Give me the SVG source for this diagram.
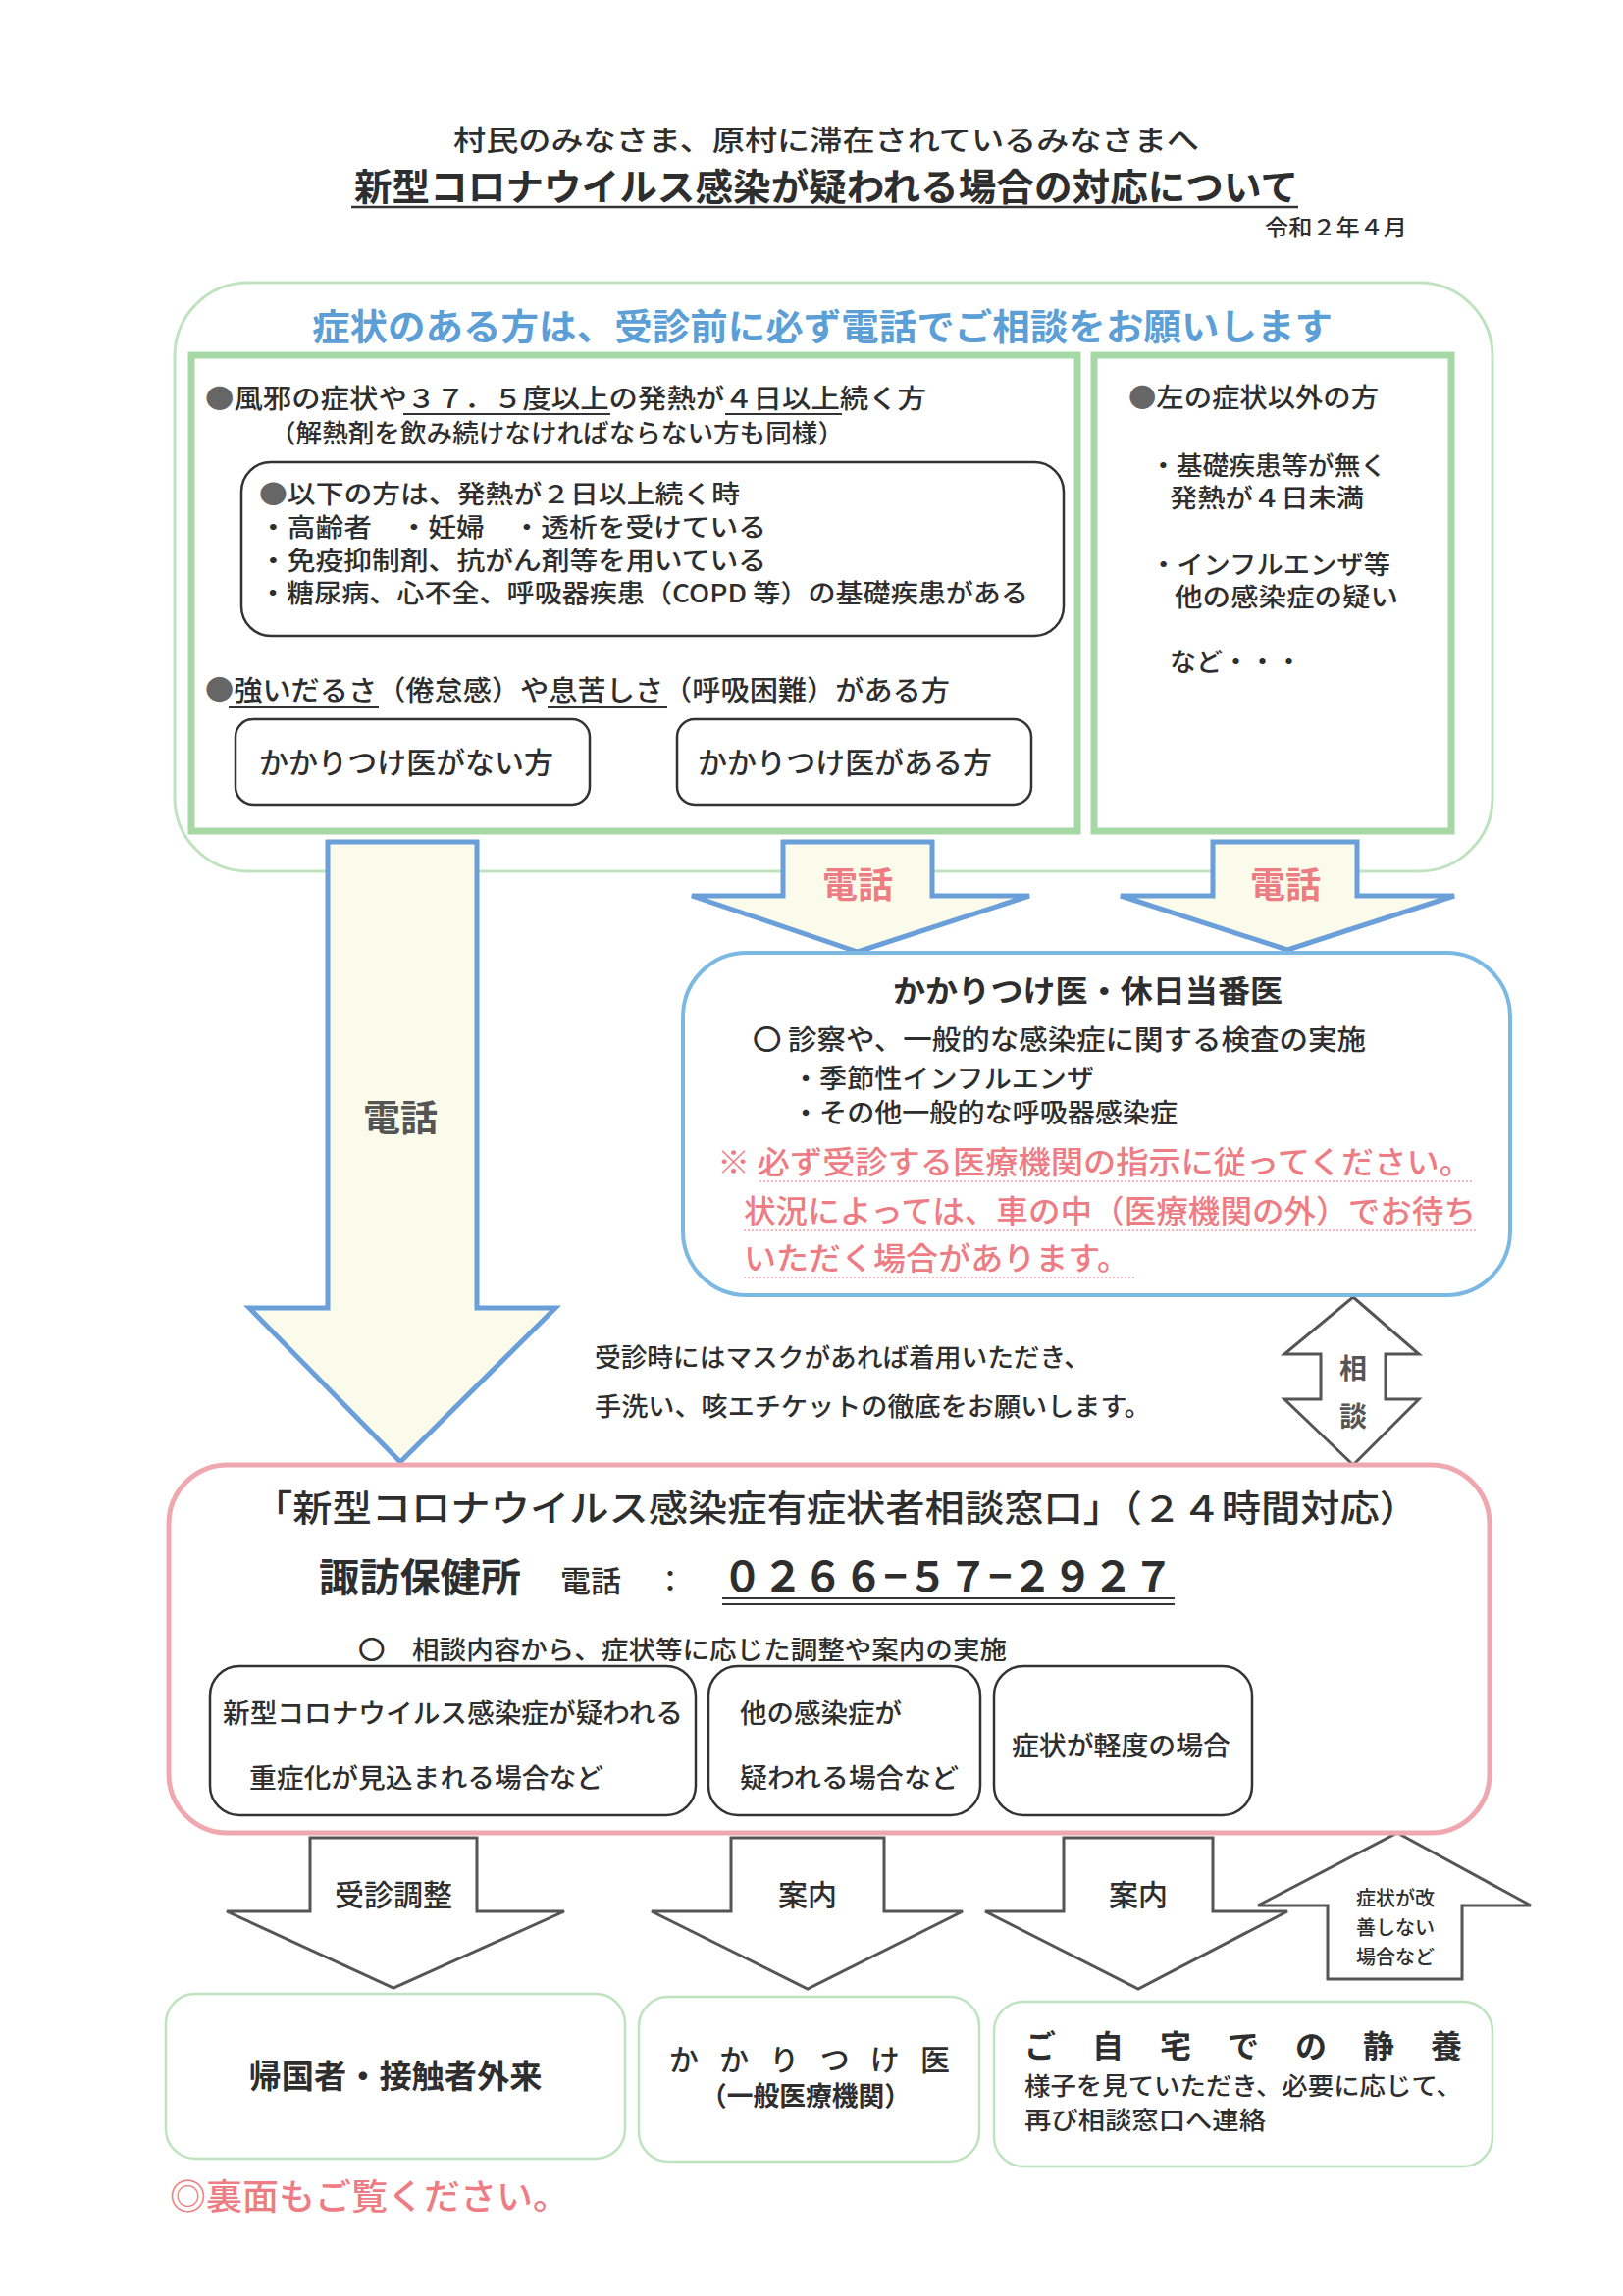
<svg xmlns="http://www.w3.org/2000/svg" width="1654" height="2340" viewBox="0 0 1654 2340">
<style>
text{font-family:"Noto Sans CJK JP","Noto Sans CJK SC",sans-serif;fill:#2e2e2e;font-weight:500;}
.b{font-weight:bold;}
.m{font-weight:500;}
.blue{fill:#5c9fd6;}
.red{fill:#ee7c84;}
.gr{fill:#666;}
.gframe{fill:#fff;stroke:#a5d8a5;stroke-width:7;}
.outerg{fill:none;stroke:#bfe3bf;stroke-width:3;}
.blk{fill:#fff;stroke:#333;stroke-width:2.5;}
.bluearr{fill:#fbfbec;stroke:#6b9fd9;stroke-width:5;stroke-linejoin:miter;}
.grayarr{fill:#fff;stroke:#555;stroke-width:3;stroke-linejoin:miter;}
.lgbox{fill:#fff;stroke:#bfe3bf;stroke-width:2.5;}
.wavy{stroke:#f0a0a8;stroke-width:1.5;stroke-dasharray:2 2;fill:none;}
</style>
<rect width="1654" height="2340" fill="#fff"/>

<g id="title">
<text x="462" y="154" font-size="29" textLength="760" lengthAdjust="spacingAndGlyphs">村民のみなさま、原村に滞在されているみなさまへ</text>
<text x="361" y="204" font-size="38" textLength="962" lengthAdjust="spacingAndGlyphs" class="b">新型コロナウイルス感染が疑われる場合の対応について</text>
<line x1="358" y1="211" x2="1323" y2="211" stroke="#333" stroke-width="2.5"/>
<text x="1289" y="240" font-size="23" textLength="145" lengthAdjust="spacingAndGlyphs">令和２年４月</text>
</g>

<g id="symptom-area">
<rect x="178" y="288" width="1343" height="600" rx="75" class="outerg"/>
<text x="318" y="347" font-size="37" textLength="1040" lengthAdjust="spacingAndGlyphs" class="b blue">症状のある方は、受診前に必ず電話でご相談をお願いします</text>
</g>

<g id="left-symptoms">
<rect x="195" y="362" width="903" height="485" class="gframe"/>
<text x="209" y="416" font-size="27" textLength="735" lengthAdjust="spacingAndGlyphs"><tspan class="gr">●</tspan>風邪の症状や３７．５度以上の発熱が４日以上続く方</text>
<line x1="411" y1="422" x2="622" y2="422" stroke="#333" stroke-width="2"/>
<line x1="739" y1="422" x2="858" y2="422" stroke="#333" stroke-width="2"/>
<text x="275" y="451" font-size="26" textLength="585" lengthAdjust="spacingAndGlyphs">（解熱剤を飲み続けなければならない方も同様）</text>
<g id="high-risk">
<rect x="246" y="471" width="838" height="177" rx="30" class="blk"/>
<text x="264" y="513" font-size="26" textLength="490" lengthAdjust="spacingAndGlyphs"><tspan class="gr">●</tspan>以下の方は、発熱が２日以上続く時</text>
<text x="264" y="547" font-size="26" textLength="517" lengthAdjust="spacingAndGlyphs">・高齢者　・妊婦　・透析を受けている</text>
<text x="264" y="581" font-size="26" textLength="517" lengthAdjust="spacingAndGlyphs">・免疫抑制剤、抗がん剤等を用いている</text>
<text x="264" y="614" font-size="26" textLength="784" lengthAdjust="spacingAndGlyphs">・糖尿病、心不全、呼吸器疾患（COPD 等）の基礎疾患がある</text>
</g>
<text x="209" y="714" font-size="28" textLength="759" lengthAdjust="spacingAndGlyphs"><tspan class="gr">●</tspan>強いだるさ（倦怠感）や息苦しさ（呼吸困難）がある方</text>
<line x1="233" y1="721" x2="386" y2="721" stroke="#333" stroke-width="2"/>
<line x1="558" y1="721" x2="680" y2="721" stroke="#333" stroke-width="2"/>
</g>
<g id="no-doctor">
<rect x="240" y="733" width="361" height="87" rx="18" class="blk"/>
<text x="264" y="788" font-size="30" textLength="300" lengthAdjust="spacingAndGlyphs">かかりつけ医がない方</text>
</g>
<g id="has-doctor">
<rect x="690" y="733" width="361" height="87" rx="18" class="blk"/>
<text x="711" y="788" font-size="30" textLength="300" lengthAdjust="spacingAndGlyphs">かかりつけ医がある方</text>
</g>

<g id="other-symptoms">
<rect x="1115" y="362" width="364" height="485" class="gframe"/>
<text x="1150" y="415" font-size="27" textLength="255" lengthAdjust="spacingAndGlyphs"><tspan class="gr">●</tspan>左の症状以外の方</text>
<text x="1172" y="484" font-size="26" textLength="241" lengthAdjust="spacingAndGlyphs">・基礎疾患等が無く</text>
<text x="1192" y="517" font-size="26" textLength="198" lengthAdjust="spacingAndGlyphs">発熱が４日未満</text>
<text x="1172" y="585" font-size="26" textLength="245" lengthAdjust="spacingAndGlyphs">・インフルエンザ等</text>
<text x="1197" y="618" font-size="26" textLength="228" lengthAdjust="spacingAndGlyphs">他の感染症の疑い</text>
<text x="1192" y="684" font-size="26" textLength="135" lengthAdjust="spacingAndGlyphs">など・・・</text>
</g>

<g id="connectors">
<polygon class="bluearr" points="334,858 486,858 486,1333 566,1333 408,1490 254,1333 334,1333"/>
<text x="370" y="1153" font-size="37" textLength="76" lengthAdjust="spacingAndGlyphs" class="b" style="fill:#555">電話</text>
<polygon class="bluearr" points="798,858 950,858 950,913 1049,913 874,970 705,913 798,913"/>
<text x="874" y="915" font-size="36" text-anchor="middle" class="b red">電話</text>
<polygon class="bluearr" points="1236,858 1383,858 1383,913 1482,913 1312,968 1142,913 1236,913"/>
<text x="1310" y="915" font-size="36" text-anchor="middle" class="b red">電話</text>
<polygon class="grayarr" points="1379,1322 1446,1380 1412,1380 1412,1426 1446,1426 1379,1493 1309,1426 1346,1426 1346,1380 1309,1380"/>
<text x="1379" y="1405" font-size="28" text-anchor="middle" class="b" style="fill:#555">相</text>
<text x="1379" y="1454" font-size="28" text-anchor="middle" class="b" style="fill:#555">談</text>
<polygon class="grayarr" points="316,1873 486,1873 486,1948 575,1948 401,2026 231,1948 316,1948"/>
<text x="401" y="1942" font-size="30" text-anchor="middle">受診調整</text>
<polygon class="grayarr" points="745,1873 901,1873 901,1948 981,1948 823,2027 664,1948 745,1948"/>
<text x="823" y="1942" font-size="30" text-anchor="middle">案内</text>
<polygon class="grayarr" points="1084,1873 1236,1873 1236,1948 1312,1948 1160,2027 1004,1948 1084,1948"/>
<text x="1160" y="1942" font-size="30" text-anchor="middle">案内</text>
<polygon class="grayarr" points="1424,1868 1560,1942 1490,1942 1490,2017 1353,2017 1353,1942 1282,1942"/>
<text x="1422" y="1942" font-size="20" text-anchor="middle">症状が改</text>
<text x="1422" y="1972" font-size="20" text-anchor="middle">善しない</text>
<text x="1422" y="2002" font-size="20" text-anchor="middle">場合など</text>
</g>

<g id="family-doctor">
<rect x="696" y="971" width="843" height="349" rx="65" fill="#fff" stroke="#7bb9e3" stroke-width="4"/>
<text x="910" y="1021" font-size="31" textLength="397" lengthAdjust="spacingAndGlyphs" class="b">かかりつけ医・休日当番医</text>
<text x="767" y="1070" font-size="28" textLength="625" lengthAdjust="spacingAndGlyphs">〇 診察や、一般的な感染症に関する検査の実施</text>
<text x="807" y="1109" font-size="27" textLength="308" lengthAdjust="spacingAndGlyphs">・季節性インフルエンザ</text>
<text x="807" y="1144" font-size="27" textLength="393" lengthAdjust="spacingAndGlyphs">・その他一般的な呼吸器感染症</text>
<text x="731" y="1196" font-size="32" textLength="769" lengthAdjust="spacingAndGlyphs" class="red">※ 必ず受診する医療機関の指示に従ってください。</text>
<line x1="774" y1="1204" x2="1500" y2="1204" class="wavy"/>
<text x="758" y="1246" font-size="32" textLength="746" lengthAdjust="spacingAndGlyphs" class="red">状況によっては、車の中（医療機関の外）でお待ち</text>
<line x1="758" y1="1254" x2="1504" y2="1254" class="wavy"/>
<text x="758" y="1294" font-size="32" textLength="393" lengthAdjust="spacingAndGlyphs" class="red">いただく場合があります。</text>
<line x1="758" y1="1302" x2="1156" y2="1302" class="wavy"/>
</g>

<g id="mask-note">
<text x="606" y="1393" font-size="26" textLength="505" lengthAdjust="spacingAndGlyphs">受診時にはマスクがあれば着用いただき、</text>
<text x="606" y="1443" font-size="26" textLength="567" lengthAdjust="spacingAndGlyphs">手洗い、咳エチケットの徹底をお願いします。</text>
</g>

<g id="consultation-center">
<rect x="172" y="1493" width="1346" height="375" rx="60" fill="#fff" stroke="#f0a8b0" stroke-width="5"/>
<text x="258" y="1551" font-size="37" textLength="1188" lengthAdjust="spacingAndGlyphs">「新型コロナウイルス感染症有症状者相談窓口」（２４時間対応）</text>
<text x="325" y="1622" font-size="40" textLength="206" lengthAdjust="spacingAndGlyphs" class="b">諏訪保健所</text>
<text x="571" y="1622" font-size="30" textLength="62" lengthAdjust="spacingAndGlyphs">電話</text>
<text x="668" y="1622" font-size="30">：</text>
<text x="736" y="1622" font-size="42" textLength="460" lengthAdjust="spacingAndGlyphs" class="b">０２６６−５７−２９２７</text>
<line x1="736" y1="1629" x2="1197" y2="1629" stroke="#333" stroke-width="2"/>
<line x1="736" y1="1635" x2="1197" y2="1635" stroke="#333" stroke-width="2"/>
<text x="365" y="1691" font-size="26" textLength="661" lengthAdjust="spacingAndGlyphs">〇　相談内容から、症状等に応じた調整や案内の実施</text>
</g>
<g id="case-covid">
<rect x="214" y="1698" width="495" height="152" rx="30" class="blk"/>
<text x="227" y="1756" font-size="27" textLength="469" lengthAdjust="spacingAndGlyphs">新型コロナウイルス感染症が疑われる</text>
<text x="254" y="1822" font-size="27" textLength="361" lengthAdjust="spacingAndGlyphs">重症化が見込まれる場合など</text>
</g>
<g id="case-other">
<rect x="722" y="1698" width="277" height="152" rx="30" class="blk"/>
<text x="754" y="1756" font-size="27" textLength="165" lengthAdjust="spacingAndGlyphs">他の感染症が</text>
<text x="754" y="1822" font-size="27" textLength="223" lengthAdjust="spacingAndGlyphs">疑われる場合など</text>
</g>
<g id="case-mild">
<rect x="1013" y="1698" width="263" height="152" rx="30" class="blk"/>
<text x="1031" y="1789" font-size="27" textLength="223" lengthAdjust="spacingAndGlyphs">症状が軽度の場合</text>
</g>

<g id="outpatient">
<rect x="169" y="2032" width="468" height="168" rx="30" class="lgbox"/>
<text x="403" y="2128" font-size="33" textLength="299" lengthAdjust="spacingAndGlyphs" text-anchor="middle" class="b">帰国者・接触者外来</text>
</g>
<g id="general-clinic">
<rect x="651" y="2035" width="347" height="168" rx="30" class="lgbox"/>
<text x="682" y="2110" font-size="30" textLength="286" lengthAdjust="spacing">かかりつけ医</text>
<text x="714" y="2146" font-size="27" textLength="214" lengthAdjust="spacingAndGlyphs" class="b">（一般医療機関）</text>
</g>
<g id="home-rest">
<rect x="1013" y="2040" width="508" height="168" rx="30" class="lgbox"/>
<text x="1044" y="2097" font-size="32" textLength="446" lengthAdjust="spacing" class="b">ご自宅での静養</text>
<text x="1044" y="2135" font-size="25" textLength="446" lengthAdjust="spacingAndGlyphs">様子を見ていただき、必要に応じて、</text>
<text x="1044" y="2170" font-size="25" textLength="246" lengthAdjust="spacingAndGlyphs">再び相談窓口へ連絡</text>
</g>

<g id="footer">
<text x="173" y="2252" font-size="36" textLength="407" lengthAdjust="spacingAndGlyphs" class="red">◎裏面もご覧ください。</text>
</g>
</svg>
